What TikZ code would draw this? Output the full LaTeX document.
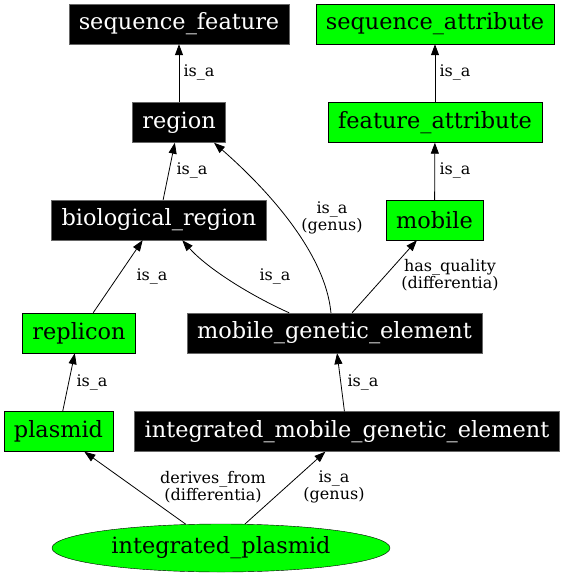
\documentclass[tikz,border=0pt]{standalone}
\usepackage{fontspec}
\setmainfont{DejaVu Serif}
\usetikzlibrary{arrows.meta,shapes.geometric}
\definecolor{termgreen}{HTML}{00FF00}

\begin{document}
\begin{tikzpicture}[x=1pt,y=1pt,
  term/.style={rectangle, draw=black, fill=termgreen, text=black, inner xsep=10pt, inner ysep=0pt, minimum height=40pt, font=\fontsize{22.4}{26}\selectfont},
  dark/.style={term, draw=black!60, fill=black, text=white},
  rel/.style={draw=black, line width=0.8pt, -{Triangle[length=11pt,width=8pt]}},
  lab/.style={align=center, inner sep=0pt, font=\fontsize{16}{17}\selectfont}]
\useasboundingbox (0,0) rectangle (565,-576);
% terms
\node[dark] (sf) at (179,-24) {sequence\_feature};
\node[term] (sa) at (435,-24) {sequence\_attribute};
\node[dark] (region) at (179,-122.5) {region};
\node[term] (fa) at (435,-122.5) {feature\_attribute};
\node[dark] (bio) at (159,-220) {biological\_region};
\node[term] (mobile) at (434.5,-220) {mobile};
\node[term] (replicon) at (79,-333) {replicon};
\node[dark] (mge) at (334.5,-333) {mobile\_genetic\_element};
\node[term] (plasmid) at (58.5,-431.5) {plasmid};
\node[dark] (imge) at (347,-431.5) {integrated\_mobile\_genetic\_element};
\node[term, ellipse, inner sep=0pt, minimum width=338pt, minimum height=48pt] (ip) at (221,-548) {integrated\_plasmid};
% relations
\draw[rel] (region) -- (sf);
\draw[rel] (fa) -- (sa);
\draw[rel] (bio) -- (region);
\draw[rel] (mobile) -- (fa);
\draw[rel] (mge.100) .. controls +(-6,63) and +(48,-42) .. (region.-30);
\draw[rel] (mge.156) .. controls +(-40,18) and +(25,-28) .. (bio.-41);
\draw[rel] (replicon.55) -- (bio.-129);
\draw[rel] (mge.49) -- (mobile.-131);
\draw[rel] (plasmid) -- (replicon);
\draw[rel] (imge) -- (mge);
\draw[rel] (ip.146) -- (plasmid.-38);
\draw[rel] (ip.45) -- (imge.-137);
% labels
\node[lab] (l1) at (199,-72) {is\_a};
\node[lab] (l2) at (455,-72) {is\_a};
\node[lab] (l3) at (192,-170) {is\_a};
\node[lab] (l4) at (455,-170) {is\_a};
\node[lab] (l5) at (332,-218) {is\_a\\(genus)};
\node[lab] (l6) at (152,-276) {is\_a};
\node[lab] (l7) at (275,-276) {is\_a};
\node[lab] (l8) at (450,-275) {has\_quality\\(differentia)};
\node[lab] (l9) at (92,-382) {is\_a};
\node[lab] (l10) at (363,-382) {is\_a};
\node[lab] (l11) at (213,-487) {derives\_from\\(differentia)};
\node[lab] (l12) at (334,-487) {is\_a\\(genus)};
\end{tikzpicture}
\end{document}
